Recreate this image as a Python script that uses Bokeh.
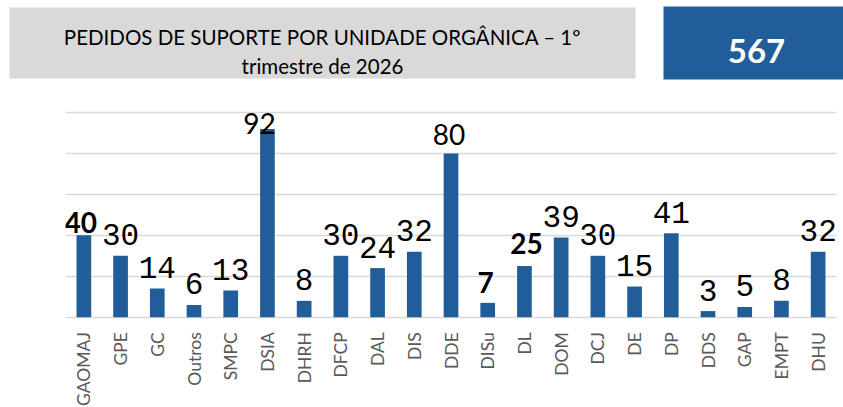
import math
from bokeh.plotting import figure
from bokeh.models import Range1d, FixedTicker, ColumnDataSource
from bokeh.core.properties import value
from bokeh.embed import file_html
from bokeh.resources import INLINE

# ---- data ----
categories = ["GAOMAJ", "GPE", "GC", "Outros", "SMPC", "DSIA", "DHRH", "DFCP", "DAL", "DIS",
              "DDE", "DISu", "DL", "DOM", "DCJ", "DE", "DP", "DDS", "GAP", "EMPT", "DHU"]
values = [40, 30, 14, 6, 13, 92, 8, 30, 24, 32, 80, 7, 25, 39, 30, 15, 41, 3, 5, 8, 32]
grid_values = [0, 20, 40, 60, 80, 100]
title_line1 = "PEDIDOS DE SUPORTE POR UNIDADE ORGÂNICA – 1º"
title_line2 = "trimestre de 2026"
total_text = "567"

# categories whose data label uses the large proportional font
emph_cats = ["GAOMAJ", "DSIA", "DDE", "DISu", "DL"]
emph_style = ["bold", "normal", "normal", "bold", "bold"]
emph_dx = [-3, -8, -2, -2, 2]
emph_dy = [-13, -5, -19, -20, -23]

BAR = "#215E99"
GRID = "#D9D9D9"

W = 843
HEAD_H = 91
CHART_H = 316

# ---- header (data units = page pixels) ----
head = figure(width=W, height=HEAD_H, output_backend="svg", toolbar_location=None,
              x_range=Range1d(0, W), y_range=Range1d(HEAD_H, 0),
              min_border=0, outline_line_color=None)
head.axis.visible = False
head.grid.visible = False
head.quad(left=[9], right=[635], top=[7], bottom=[78], fill_color=GRID, line_color=None)
head.quad(left=[663], right=[850], top=[6], bottom=[79], fill_color=BAR, line_color=None)
head.text(x=[322, 322], y=[36, 65], text=[title_line1, title_line2],
          text_font=value("Lato"), text_font_size="20.5px", text_color="#000000",
          text_align="center", text_baseline="alphabetic")
head.text(x=[756], y=[50.5], text=[total_text], text_font=value("Lato"),
          text_font_size="33px", text_font_style="bold", text_color="#FFFFFF",
          text_align="center", text_baseline="alphabetic")

# ---- chart ----
p = figure(width=W, height=CHART_H, output_backend="svg", toolbar_location=None,
           x_range=categories, y_range=Range1d(-44.1, 110.26),
           min_border_top=0, min_border_left=65, min_border_right=7, min_border_bottom=0,
           outline_line_color=None)
p.vbar(x=categories, top=values, width=0.4, fill_color=BAR, line_color=None)

p.axis.visible = False
p.xgrid.grid_line_color = None
p.ygrid.ticker = FixedTicker(ticks=grid_values)
p.ygrid.grid_line_color = GRID
p.ygrid.grid_line_width = 1.5

# category labels, rotated, hanging below the baseline
p.text(x=categories, y=[0] * len(categories), text=categories, angle=math.pi / 2,
       text_font=value("Lato"), text_font_size="17.5px", text_color="#595959",
       text_align="right", text_baseline="middle", y_offset=15)

normal_idx = [i for i, c in enumerate(categories) if c not in emph_cats]
src_norm = ColumnDataSource(dict(
    x=[categories[i] for i in normal_idx],
    y=[values[i] for i in normal_idx],
    t=[str(values[i]) for i in normal_idx]))
p.text(x="x", y="y", text="t", source=src_norm, text_font=value("Liberation Mono"),
       text_font_size="31px", text_color="#000000", text_align="center",
       text_baseline="alphabetic", y_offset=-21)

emph_idx = [categories.index(c) for c in emph_cats]
src_emph = ColumnDataSource(dict(
    x=[categories[i] for i in emph_idx],
    y=[values[i] for i in emph_idx],
    t=[str(values[i]) for i in emph_idx],
    st=emph_style, dx=emph_dx, dy=emph_dy))
p.text(x="x", y="y", text="t", source=src_emph, text_font=value("Lato"),
       text_font_size="28px", text_font_style="st", text_color="#000000",
       text_align="center", text_baseline="alphabetic", x_offset="dx", y_offset="dy")

open("out.html", "w").write(file_html([head, p], INLINE))
